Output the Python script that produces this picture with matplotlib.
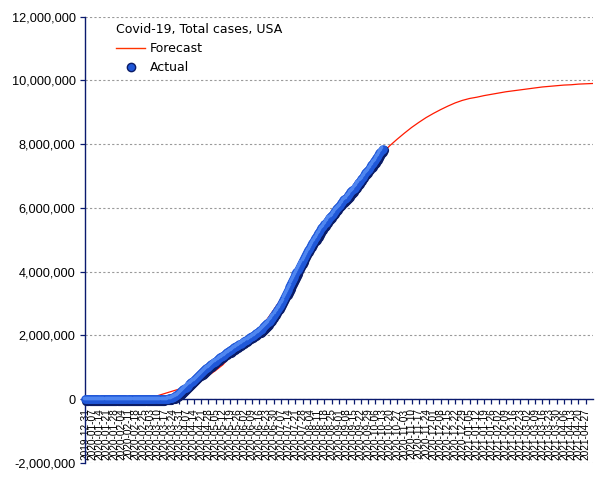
import pandas as pd
import matplotlib.pyplot as plt
import matplotlib.transforms as mtransforms
from matplotlib.lines import Line2D
from matplotlib.ticker import FuncFormatter

# Casos totales diarios (miles), desde 2019-12-31, una fila por semana
actual_start = '2019-12-31'
actual_k = [
    0, 0, 0, 0, 0, 0, 0,
    0, 0, 0, 0, 0, 0, 0,
    0, 0, 0, 0, 0, 0, 0,
    0, 0, 0, 0, 0, 0, 0,
    0, 0, 0, 0, 0, 0, 0,
    0, 0, 0, 0, 0, 0, 0,
    0, 0, 0, 0, 0, 0, 0,
    0, 0, 0, 0, 0, 0, 0,
    0, 0, 0, 0, 0, 0, 0,
    0.1, 0.15, 0.2, 0.25, 0.4, 0.5, 0.6,
    0.9, 1.2, 1.6, 2.2, 2.7, 3.5, 4.6,
    6.4, 9.4, 13.7, 19.1, 25.5, 33.3, 43.8,
    53.7, 65.8, 83.8, 101.7, 121.5, 140.9, 161.8,
    188.2, 213.4, 243.6, 275.6, 308.9, 337.1, 366.7,
    396.2, 429.1, 461.4, 496.5, 526.4, 555.3, 580.6,
    607.7, 636.4, 667.8, 699.7, 732.2, 759.1, 784.3,
    811.9, 840.4, 869.2, 905.4, 938.2, 965.8, 988.5,
    1012, 1039, 1069, 1103, 1132, 1158, 1180,
    1204, 1229, 1257, 1283, 1309, 1329, 1347,
    1369, 1390, 1417, 1443, 1467, 1486, 1508,
    1528, 1551, 1577, 1601, 1622, 1643, 1662,
    1681, 1699, 1721, 1746, 1770, 1790, 1811,
    1831, 1851, 1872, 1897, 1920, 1938, 1956,
    1973, 1994, 2017, 2041, 2066, 2089, 2108,
    2131, 2157, 2184, 2216, 2249, 2281, 2313,
    2348, 2385, 2425, 2467, 2510, 2554, 2596,
    2640, 2690, 2745, 2795, 2841, 2888, 2935,
    2996, 3057, 3116, 3185, 3249, 3310, 3372,
    3440, 3508, 3584, 3655, 3719, 3782, 3843,
    3911, 3981, 4050, 4118, 4183, 4237, 4291,
    4353, 4425, 4493, 4560, 4620, 4667, 4714,
    4770, 4826, 4883, 4941, 4995, 5040, 5085,
    5141, 5197, 5248, 5313, 5361, 5401, 5437,
    5482, 5527, 5573, 5620, 5667, 5701, 5736,
    5774, 5819, 5864, 5912, 5955, 5990, 6024,
    6066, 6096, 6140, 6190, 6237, 6268, 6292,
    6318, 6352, 6389, 6432, 6486, 6520, 6556,
    6594, 6633, 6676, 6724, 6766, 6801, 6852,
    6892, 6934, 6980, 7033, 7079, 7114, 7148,
    7191, 7233, 7280, 7334, 7384, 7418, 7459,
    7502, 7552, 7608, 7665, 7722, 7767, 7809,
    7860,
]

# Pronostico semanal (millones), desde 2020-02-25
forecast_start = '2020-02-25'
forecast_m = [
    0.0, 0.04, 0.11, 0.18, 0.25, 0.32, 0.41, 0.51, 0.62, 0.74,
    0.90, 1.08, 1.33, 1.55, 1.75, 1.97, 2.20, 2.48, 2.80, 3.14,
    3.52, 3.93, 4.35, 4.75, 5.12, 5.45, 5.75, 6.04, 6.32, 6.59,
    6.87, 7.15, 7.45, 7.72, 7.95, 8.15, 8.34, 8.52, 8.68, 8.83,
    8.96, 9.08, 9.19, 9.29, 9.37, 9.43, 9.47, 9.52, 9.56, 9.60,
    9.64, 9.67, 9.70, 9.73, 9.76, 9.79, 9.81, 9.83, 9.85, 9.86,
    9.88, 9.89, 9.90,
]

tick_first = '2019-12-31'
tick_last = '2021-04-27'
x_end = '2021-05-04'

actual_dates = pd.date_range(actual_start, periods=len(actual_k), freq='D')
actual = pd.Series(actual_k, index=actual_dates) * 1000
forecast_dates = pd.date_range(forecast_start, periods=len(forecast_m), freq='7D')
forecast = pd.Series(forecast_m, index=forecast_dates) * 1e6
ticks = pd.date_range(tick_first, tick_last, freq='7D')

navy = '#0a1a6e'

fig = plt.figure(figsize=(6.05, 4.8), dpi=100)
ax = fig.add_axes([85 / 605, 1 - 463 / 480, 508 / 605, 446.5 / 480])

ax.plot(forecast.index, forecast.values, color='#ff1a00', lw=0.9, zorder=2)

# puntos "esfericos": sombra oscura desplazada + azul + brillo
shadow = mtransforms.offset_copy(ax.transData, fig=fig, x=1.4, y=-1.4, units='dots')
shine = mtransforms.offset_copy(ax.transData, fig=fig, x=-1.2, y=1.2, units='dots')
ax.plot(actual.index, actual.values, 'o', ms=6.6, color='#0b1c66', mec='none',
        transform=shadow, clip_on=False, zorder=3)
ax.plot(actual.index, actual.values, 'o', ms=6.2, color='#1f57d8', mec='none',
        clip_on=False, zorder=4)
ax.plot(actual.index, actual.values, 'o', ms=2.6, color='#4f86f0', mec='none',
        transform=shine, clip_on=False, zorder=5)

ax.set_xlim(pd.Timestamp(tick_first), pd.Timestamp(x_end))
ax.set_ylim(-2e6, 12e6)
ax.set_yticks(range(-2000000, 12000001, 2000000))
ax.yaxis.set_major_formatter(FuncFormatter(lambda v, p: f'{v:,.0f}'))
ax.set_xticks(ticks, [d.strftime('%Y-%m-%d') for d in ticks])

ax.spines['top'].set_visible(False)
ax.spines['right'].set_visible(False)
ax.spines['bottom'].set_position(('data', 0))
ax.spines['bottom'].set_color(navy)
ax.spines['left'].set_color(navy)
ax.spines['bottom'].set_linewidth(1.0)
ax.spines['left'].set_linewidth(1.0)
ax.tick_params(axis='both', colors=navy, labelcolor='black', length=3.8, width=0.9)
ax.tick_params(axis='x', pad=2.8, labelrotation=90, labelsize=7.3)
ax.tick_params(axis='y', pad=3, labelsize=9.2)
for lab in ax.get_xticklabels() + ax.get_yticklabels():
    lab.set_family('Liberation Sans')

ax.yaxis.grid(True, linestyle=(0, (2, 2)), color='#9a9a9a', lw=0.8)
ax.set_axisbelow(True)

handles = [Line2D([], [], color='#ff3300', lw=1.0),
           Line2D([], [], ls='none', marker='o', ms=6, color='#1f57d8', mec='#0b1c66')]
leg = ax.legend(handles, ['Forecast', 'Actual'], title='Covid-19, Total cases, USA',
                loc='upper left', bbox_to_anchor=(0.052, 0.997), frameon=False,
                fontsize=9, title_fontsize=9, handlelength=2.3, handletextpad=0.35,
                labelspacing=0.5, alignment='left', borderaxespad=0)

fig.savefig('out.png', dpi=100)
